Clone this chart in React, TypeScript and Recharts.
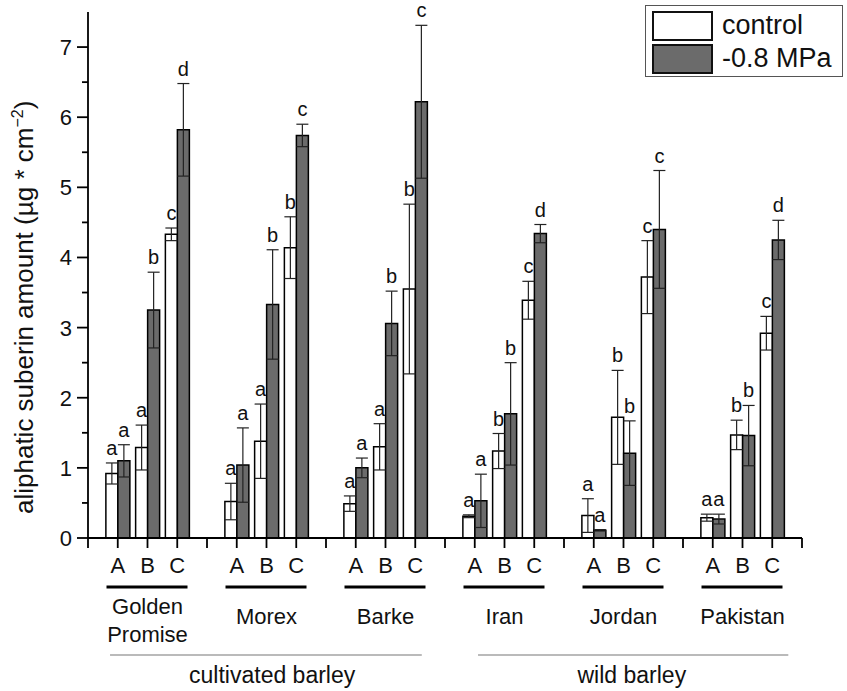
import { Bar, BarChart, ErrorBar, LabelList, Legend, XAxis, YAxis } from "recharts";

const FONT = "Arial, 'Liberation Sans', Helvetica, sans-serif";

const genotypes = ["Golden Promise", "Morex", "Barke", "Iran", "Jordan", "Pakistan"];
const stages = ["A", "B", "C"];

// mean values per genotype x stage (GP A, GP B, GP C, Morex A, ...)
const controlMean = [0.92, 1.29, 4.33, 0.52, 1.38, 4.14, 0.49, 1.3, 3.55, 0.31, 1.24, 3.39, 0.32, 1.72, 3.72, 0.29, 1.47, 2.92];
const controlSd = [0.15, 0.32, 0.09, 0.26, 0.53, 0.44, 0.11, 0.33, 1.21, 0.02, 0.25, 0.27, 0.24, 0.67, 0.52, 0.05, 0.21, 0.24];
const stressMean = [1.1, 3.25, 5.82, 1.04, 3.33, 5.74, 1.0, 3.06, 6.22, 0.53, 1.77, 4.34, 0.11, 1.21, 4.4, 0.27, 1.46, 4.25];
const stressSd = [0.23, 0.54, 0.66, 0.53, 0.78, 0.16, 0.14, 0.46, 1.09, 0.38, 0.73, 0.13, 0.01, 0.46, 0.84, 0.07, 0.43, 0.28];
const controlLetters = ["a", "a", "c", "a", "a", "b", "a", "a", "b", "a", "b", "c", "a", "b", "c", "a", "b", "c"];
const stressLetters = ["a", "b", "d", "a", "b", "c", "a", "b", "c", "a", "b", "d", "a", "b", "c", "a", "b", "d"];

const superGroups = [
  { label: "cultivated barley", first: 0, from: -0.26, to: 10.22, center: 5.19 },
  { label: "wild barley", first: 3, from: 0.11, to: 10.54, center: 5.28 },
];

const WIDTH = 847;
const HEIGHT = 691;
const MARGIN = { top: 12, right: 45, bottom: 152, left: 87 };
const Y_MAX = 7.5;
const BAND = (WIDTH - MARGIN.left - 1 - MARGIN.right) / 24;
const PX_PER_UNIT = (HEIGHT - MARGIN.top - MARGIN.bottom - 1) / Y_MAX;

type Row = {
  slot: string;
  stage: string;
  genotype: number;
  control?: number;
  controlSd?: number;
  stress?: number;
  stressSd?: number;
  controlLetter?: string;
  stressLetter?: string;
};

const rows: Row[] = [];
genotypes.forEach((g, gi) => {
  stages.forEach((s, si) => {
    const i = gi * 3 + si;
    rows.push({
      slot: `${g} ${s}`,
      stage: s,
      genotype: gi,
      control: controlMean[i],
      controlSd: controlSd[i],
      stress: stressMean[i],
      stressSd: stressSd[i],
      controlLetter: controlLetters[i],
      stressLetter: stressLetters[i],
    });
  });
  if (gi < genotypes.length - 1) rows.push({ slot: `gap ${gi}`, stage: "", genotype: gi });
});

const yTicks = Array.from({ length: 15 }, (_, i) => i / 2);

function YTick(props: any) {
  const { x, y, payload } = props;
  const major = Number.isInteger(payload.value);
  return (
    <g>
      <line x1={x - (major ? 11 : 6)} x2={x} y1={y} y2={y} stroke="#000" strokeWidth={1.8} />
      {major && (
        <text x={x - 16} y={y} dy="0.36em" textAnchor="end" fontSize={22} fontFamily={FONT} fill="#111">
          {payload.value}
        </text>
      )}
    </g>
  );
}

function XTick(props: any) {
  const { x, y, index } = props;
  const row = rows[index];
  if (!row) return null;
  const sg = superGroups.find((s) => s.first * 4 === index);
  return (
    <g fontFamily={FONT} fill="#111">
      <line x1={x} x2={x} y1={y} y2={y + 10} stroke="#000" strokeWidth={1.8} />
      {index === 0 && <line x1={x - BAND} x2={x - BAND} y1={y} y2={y + 10} stroke="#000" strokeWidth={1.8} />}
      {index === rows.length - 1 && (
        <line x1={x + BAND} x2={x + BAND} y1={y} y2={y + 10} stroke="#000" strokeWidth={1.8} />
      )}
      {row.stage && (
        <text x={x} y={y + 35} textAnchor="middle" fontSize={22}>
          {row.stage}
        </text>
      )}
      {row.stage === "B" && (
        <g>
          <line x1={x - 41} x2={x + 40} y1={y + 49} y2={y + 49} stroke="#000" strokeWidth={3} />
          {genotypes[row.genotype].includes(" ") ? (
            <text x={x} y={y + 76} textAnchor="middle" fontSize={22}>
              {genotypes[row.genotype].split(" ").map((w, i) => (
                <tspan key={w} x={x} dy={i === 0 ? 0 : 28}>
                  {w}
                </tspan>
              ))}
            </text>
          ) : (
            <text x={x} y={y + 86} textAnchor="middle" fontSize={22}>
              {genotypes[row.genotype]}
            </text>
          )}
        </g>
      )}
      {sg && (
        <g>
          <line
            x1={x + sg.from * BAND}
            x2={x + sg.to * BAND}
            y1={y + 117}
            y2={y + 117}
            stroke="#777"
            strokeWidth={1.2}
          />
          <text x={x + sg.center * BAND} y={y + 145} textAnchor="middle" fontSize={23}>
            {sg.label}
          </text>
        </g>
      )}
    </g>
  );
}

// letters sit above the error bar; label entries skip the empty gap slots
function letterContent(sds: number[]) {
  return (props: any) => {
    const vb = props.viewBox ?? props;
    const x = vb.x ?? props.x;
    const y = vb.y ?? props.y;
    const width = vb.width ?? props.width;
    if (!props.value) return null;
    const sd = sds[props.index] ?? 0;
    const errTop = y - sd * PX_PER_UNIT;
    return (
      <text x={x + width / 2} y={errTop - 8} textAnchor="middle" fontSize={20} fontFamily={FONT} fill="#111">
        {props.value}
      </text>
    );
  };
}

function YTitle() {
  const cx = 33;
  const cy = 514;
  return (
    <text
      x={cx}
      y={cy}
      transform={`rotate(-90 ${cx} ${cy})`}
      textAnchor="start"
      fontSize={26}
      fontFamily={FONT}
      fill="#111"
    >
      aliphatic suberin amount (µg * cm
      <tspan dy={-10} fontSize={16}>
        −2
      </tspan>
      <tspan dy={10}>)</tspan>
    </text>
  );
}

function LegendBox() {
  const items = [
    { label: "control", fill: "#ffffff" },
    { label: "-0.8 MPa", fill: "#6b6b6b" },
  ];
  return (
    <div
      style={{
        width: 198,
        height: 72,
        boxSizing: "border-box",
        border: "1.5px solid #555",
        background: "#fff",
        padding: "3px 0 0 6px",
        fontFamily: FONT,
        fontSize: 27,
        color: "#111",
      }}
    >
      {items.map((it) => (
        <div key={it.label} style={{ display: "flex", alignItems: "center", height: 33 }}>
          <span
            style={{
              width: 61,
              height: 30,
              boxSizing: "border-box",
              border: "2px solid #111",
              background: it.fill,
              marginRight: 9,
            }}
          />
          {it.label}
        </div>
      ))}
    </div>
  );
}

export default function App() {
  return (
    <div style={{ position: "absolute", left: 0, top: 0, background: "#fff" }}>
      <BarChart width={WIDTH} height={HEIGHT} data={rows} margin={MARGIN} barGap={0}>
        <XAxis
          dataKey="slot"
          height={1}
          interval={0}
          padding={{ left: BAND / 2, right: BAND / 2 }}
          tickSize={0}
          tickMargin={0}
          tickLine={false}
          axisLine={{ stroke: "#000", strokeWidth: 1.8 }}
          tick={XTick}
        />
        <YAxis
          width={1}
          domain={[0, Y_MAX]}
          ticks={yTicks}
          interval={0}
          tickSize={0}
          tickMargin={0}
          tickLine={false}
          axisLine={{ stroke: "#000", strokeWidth: 1.8 }}
          tick={YTick}
          label={{ content: () => <YTitle /> }}
        />
        <Legend
          layout="horizontal"
          verticalAlign="middle"
          content={() => <LegendBox />}
          wrapperStyle={{ left: 645, top: 5, width: 198, height: 72 }}
        />
        <Bar
          dataKey="control"
          name="control"
          fill="#ffffff"
          stroke="#000"
          strokeWidth={1.5}
          barSize={12}
          isAnimationActive={false}
        >
          <ErrorBar dataKey="controlSd" width={6} stroke="#222" strokeWidth={1.2} direction="y" />
          <LabelList dataKey="controlLetter" content={letterContent(controlSd)} />
        </Bar>
        <Bar
          dataKey="stress"
          name="-0.8 MPa"
          fill="#6b6b6b"
          stroke="#000"
          strokeWidth={1.5}
          barSize={12}
          isAnimationActive={false}
        >
          <ErrorBar dataKey="stressSd" width={6} stroke="#222" strokeWidth={1.2} direction="y" />
          <LabelList dataKey="stressLetter" content={letterContent(stressSd)} />
        </Bar>
      </BarChart>
    </div>
  );
}
